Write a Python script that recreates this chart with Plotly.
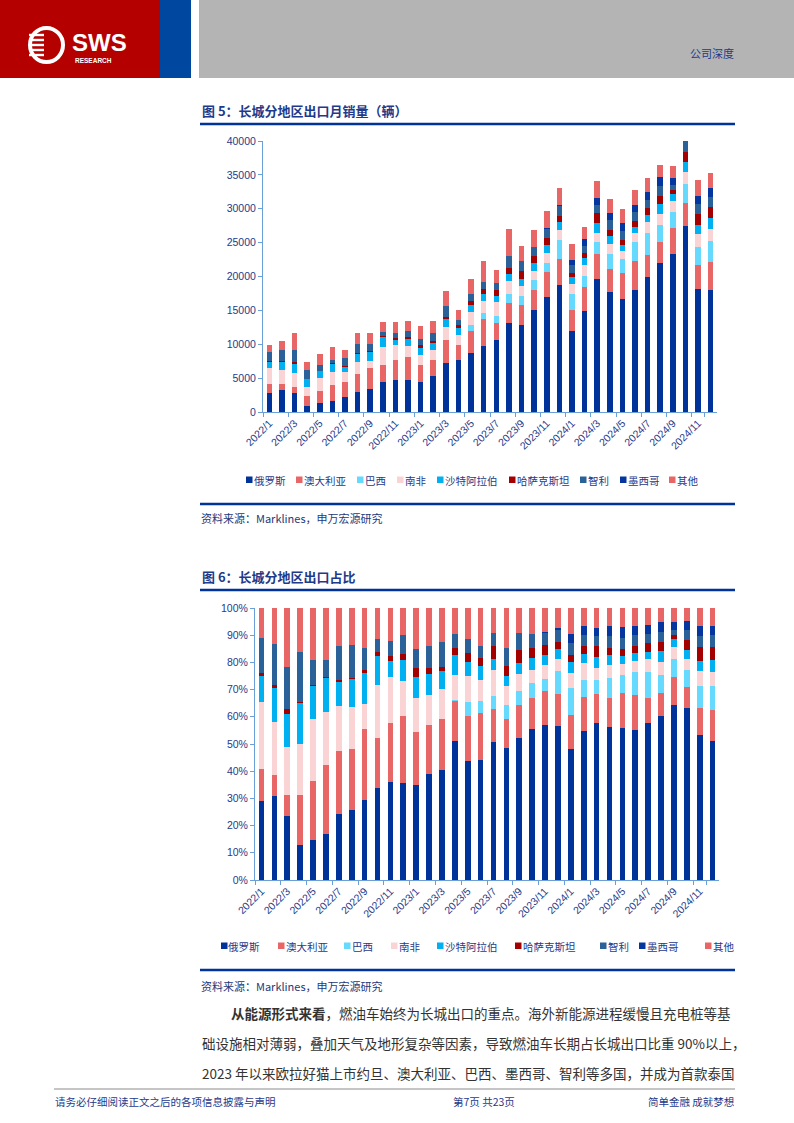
import numpy as np
import plotly.graph_objects as go

W, H = 794, 1123

# ---------------- data ----------------
months = ["2022/1", "2022/2", "2022/3", "2022/4", "2022/5", "2022/6", "2022/7", "2022/8", "2022/9",
          "2022/10", "2022/11", "2022/12", "2023/1", "2023/2", "2023/3", "2023/4", "2023/5", "2023/6",
          "2023/7", "2023/8", "2023/9", "2023/10", "2023/11", "2023/12", "2024/1", "2024/2", "2024/3",
          "2024/4", "2024/5", "2024/6", "2024/7", "2024/8", "2024/9", "2024/10", "2024/11", "2024/12"]
tick_labels = months[::2]

russia = [2870, 3270, 2750, 960, 1270, 1620, 2230, 3000, 3460, 4500, 4770, 4790,
          4400, 5250, 7250, 7650, 8640, 9780, 10650, 13170, 12870, 14990, 16950, 18720,
          11990, 14940, 19660, 17690, 16710, 18080, 19950, 22010, 23390, 27500, 18180, 18030]
australia = [1190, 810, 900, 1350, 1840, 2420, 2130, 2620, 3040, 2470, 2900, 3280,
             2500, 2400, 3330, 2220, 3260, 3900, 2550, 2850, 2900, 3000, 3740, 3840,
             3100, 3440, 3680, 3390, 3880, 4180, 3240, 3100, 3780, 3400, 3490, 4080]
brazil = [0, 0, 0, 0, 0, 0, 0, 0, 0, 0, 0, 0,
          0, 0, 0, 80, 990, 980, 980, 1420, 1330, 1470, 1320, 2800,
          2400, 1720, 1720, 2260, 1970, 2800, 3250, 2460, 2310, 2700, 2700, 3100]
south_africa = [2430, 2050, 2050, 1400, 1940, 1870, 1510, 1800, 1050, 2600, 2220, 1710,
                1560, 1520, 1990, 1380, 1870, 1740, 2000, 1870, 1520, 1380, 1480, 1470,
                1380, 1670, 1430, 1520, 1220, 1330, 1620, 1670, 1720, 1800, 1870, 1770]
saudi = [940, 1310, 1430, 1110, 1040, 1200, 830, 1180, 1370, 1430, 810, 1020,
         1000, 1010, 1150, 1080, 1030, 1070, 870, 1030, 990, 1130, 1130, 1180,
         1030, 930, 1470, 1180, 890, 980, 980, 1520, 1040, 1500, 1330, 1620]
kazakhstan = [110, 120, 190, 30, 30, 50, 50, 50, 120, 170, 240, 310,
              390, 320, 300, 420, 660, 690, 930, 940, 1130, 1030, 1080, 930,
              640, 840, 1380, 790, 780, 840, 1080, 1180, 490, 1450, 1670, 1620]
chile = [1290, 1580, 1800, 1340, 810, 580, 1150, 1400, 950, 660, 740, 920,
         910, 1100, 1620, 720, 1030, 990, 1060, 1770, 1570, 1370, 1280, 1430,
         1130, 1030, 1180, 1470, 1230, 1270, 1130, 1380, 730, 1600, 1420, 1570]
mexico = [0, 0, 0, 0, 0, 0, 0, 0, 0, 0, 0, 0,
          0, 0, 0, 0, 0, 0, 0, 0, 0, 0, 150, 200,
          740, 930, 1080, 1090, 1180, 1130, 1230, 1320, 1090, 1500, 1230, 1230]
others = [1090, 1410, 2530, 1210, 1620, 1830, 1300, 1600, 1710, 1520, 1600, 1340,
          1900, 1860, 2250, 1460, 2220, 3100, 1900, 4030, 2260, 2560, 2600, 2450,
          2410, 1820, 2450, 2110, 2070, 2170, 2110, 1870, 1810, 2100, 2310, 2310]

series_names = ["俄罗斯", "澳大利亚", "巴西", "南非", "沙特阿拉伯", "哈萨克斯坦", "智利", "墨西哥", "其他"]
series_values = [russia, australia, brazil, south_africa, saudi, kazakhstan, chile, mexico, others]
series_colors = ["#003399", "#E96666", "#66D9FF", "#FAD4D4", "#00B0F0", "#A50000", "#2A6199", "#0536A0", "#E96666"]

# ---------------- styling ----------------
BLUE_TXT = "#1F3A8A"
AXIS_COL = "#6A9FD8"
CJK = "Noto Sans CJK SC"
LAT = "Liberation Sans, Noto Sans CJK SC"


def X(px):
    return px / W


def Y(py):
    return 1 - py / H


fig = go.Figure()

for name, vals, col in zip(series_names, series_values, series_colors):
    fig.add_trace(go.Bar(x=months, y=vals, name=name, marker=dict(color=col, line=dict(width=0)),
                         xaxis="x", yaxis="y", showlegend=False, hoverinfo="skip"))

totals = np.sum(np.array(series_values, dtype=float), axis=0)
for name, vals, col in zip(series_names, series_values, series_colors):
    share = np.array(vals, dtype=float) / totals * 100
    fig.add_trace(go.Bar(x=months, y=share, name=name, marker=dict(color=col, line=dict(width=0)),
                         xaxis="x2", yaxis="y2", showlegend=False, hoverinfo="skip"))

xcommon = dict(type="category", categoryorder="array", categoryarray=months,
               tickmode="array", tickvals=tick_labels, ticktext=tick_labels,
               tickangle=-45, tickson="boundaries", ticks="outside", ticklen=4,
               tickcolor=AXIS_COL, showline=True, linecolor=AXIS_COL, linewidth=1,
               showgrid=False, zeroline=False, range=[-0.5, 35.5], automargin=False,
               tickfont=dict(family=LAT, size=10.5, color=BLUE_TXT))
ycommon = dict(showline=True, linecolor=AXIS_COL, linewidth=1, ticks="outside", ticklen=4,
               tickcolor=AXIS_COL, showgrid=False, zeroline=False, automargin=False,
               tickfont=dict(family=LAT, size=10.5, color=BLUE_TXT))

fig.update_layout(
    width=W, height=H, margin=dict(l=0, r=0, t=0, b=0, pad=0, autoexpand=False),
    paper_bgcolor="white", plot_bgcolor="white",
    barmode="stack", bargap=0.56, showlegend=False,
    xaxis=dict(domain=[X(263), X(717)], anchor="y", **xcommon),
    yaxis=dict(domain=[Y(412), Y(141)], anchor="x", range=[0, 40000], tickmode="array",
               tickvals=[0, 5000, 10000, 15000, 20000, 25000, 30000, 35000, 40000],
               ticktext=["0", "5000", "10000", "15000", "20000", "25000", "30000", "35000", "40000"],
               **ycommon),
    xaxis2=dict(domain=[X(255), X(719)], anchor="y2", **xcommon),
    yaxis2=dict(domain=[Y(880), Y(608)], anchor="x2", range=[0, 100], tickmode="array",
                tickvals=list(range(0, 101, 10)), ticktext=[f"{v}%" for v in range(0, 101, 10)],
                **ycommon),
)

shapes = []
annotations = []


def rect(x0, y0, x1, y1, color, line=None):
    shapes.append(dict(type="rect", xref="paper", yref="paper", x0=X(x0), x1=X(x1), y0=Y(y1), y1=Y(y0),
                       fillcolor=color, line=dict(width=0) if line is None else line, layer="above"))


def hline(x0, x1, y, color, width):
    shapes.append(dict(type="line", xref="paper", yref="paper", x0=X(x0), x1=X(x1), y0=Y(y), y1=Y(y),
                       line=dict(color=color, width=width)))


def text(x, y, s, size, color, family=CJK, xanchor="left", yanchor="middle"):
    annotations.append(dict(x=X(x), y=Y(y), xref="paper", yref="paper", text=s, showarrow=False,
                            xanchor=xanchor, yanchor=yanchor, align="left", borderpad=0,
                            font=dict(size=size, color=color, family=family)))


# header
rect(0, 0, 160, 78, "#B50000")
rect(160, 0, 191, 78, "#0047A0")
rect(199, 0, 794, 78, "#B4B4B4")
# logo
shapes.append(dict(type="circle", xref="paper", yref="paper", x0=X(30), x1=X(63), y0=Y(62), y1=Y(28),
                   line=dict(color="white", width=4), fillcolor="rgba(0,0,0,0)"))
for yy in (35, 40, 45, 50, 55):
    rect(29, yy - 1.2, 45, yy + 1.2, "white")
rect(44, 33, 47, 57, "#B50000")
text(71, 42, "<b>SWS</b>", 24, "white", family="Liberation Sans")
text(74, 61, "<b>RESEARCH</b>", 6.5, "white", family="Liberation Sans")
text(735, 53, "公司深度", 11, BLUE_TXT, xanchor="right")

# chart 1 title / source
text(201, 111, "<b>图 5：长城分地区出口月销量（辆）</b>", 13, BLUE_TXT)
hline(200, 735, 124, "#003399", 2.5)
hline(200, 735, 504, "#003399", 2.5)
text(200, 518, "资料来源：Marklines，申万宏源研究", 11, "#24397A")

# chart 2 title / source
text(201, 576, "<b>图 6：长城分地区出口占比</b>", 13, BLUE_TXT)
hline(200, 735, 590, "#003399", 2.5)
hline(200, 735, 970, "#003399", 2.5)
text(200, 986, "资料来源：Marklines，申万宏源研究", 11, "#24397A")

# legends (manual, compact like the original)
leg1_x = [246, 296, 357, 397, 437, 509, 580, 620, 669]
leg2_x = [221, 278, 344, 391, 437, 515, 600, 639, 705]
for xs, ly in ((leg1_x, 480), (leg2_x, 946)):
    for xm, name, col in zip(xs, series_names, series_colors):
        rect(xm, ly - 3.5, xm + 6.5, ly + 3, col)
        text(xm + 6.5, ly, name, 10.5, BLUE_TXT)

# body text
text(230, 1013, "<b>从能源形式来看</b>，燃油车始终为长城出口的重点。海外新能源进程缓慢且充电桩等基", 13.5, "#333333")
text(201, 1043, "础设施相对薄弱，叠加天气及地形复杂等因素，导致燃油车长期占长城出口比重 90%以上，", 13.5, "#333333")
text(201, 1073, "2023 年以来欧拉好猫上市约旦、澳大利亚、巴西、墨西哥、智利等多国，并成为首款泰国", 13.5, "#333333")

# footer
hline(54, 735, 1089, "#8C8C8C", 1.2)
text(54, 1101, "请务必仔细阅读正文之后的各项信息披露与声明", 10.5, BLUE_TXT)
text(484, 1101, "第7页 共23页", 10.5, BLUE_TXT, xanchor="center")
text(735, 1101, "简单金融 成就梦想", 10.5, BLUE_TXT, xanchor="right")

fig.update_layout(shapes=shapes, annotations=annotations)
fig.write_html("out.html", config={"displayModeBar": False, "staticPlot": True},
               post_script="document.documentElement.style.margin='0';document.body.style.margin='0';"
                           "document.body.style.padding='0';document.body.style.overflow='hidden';")
